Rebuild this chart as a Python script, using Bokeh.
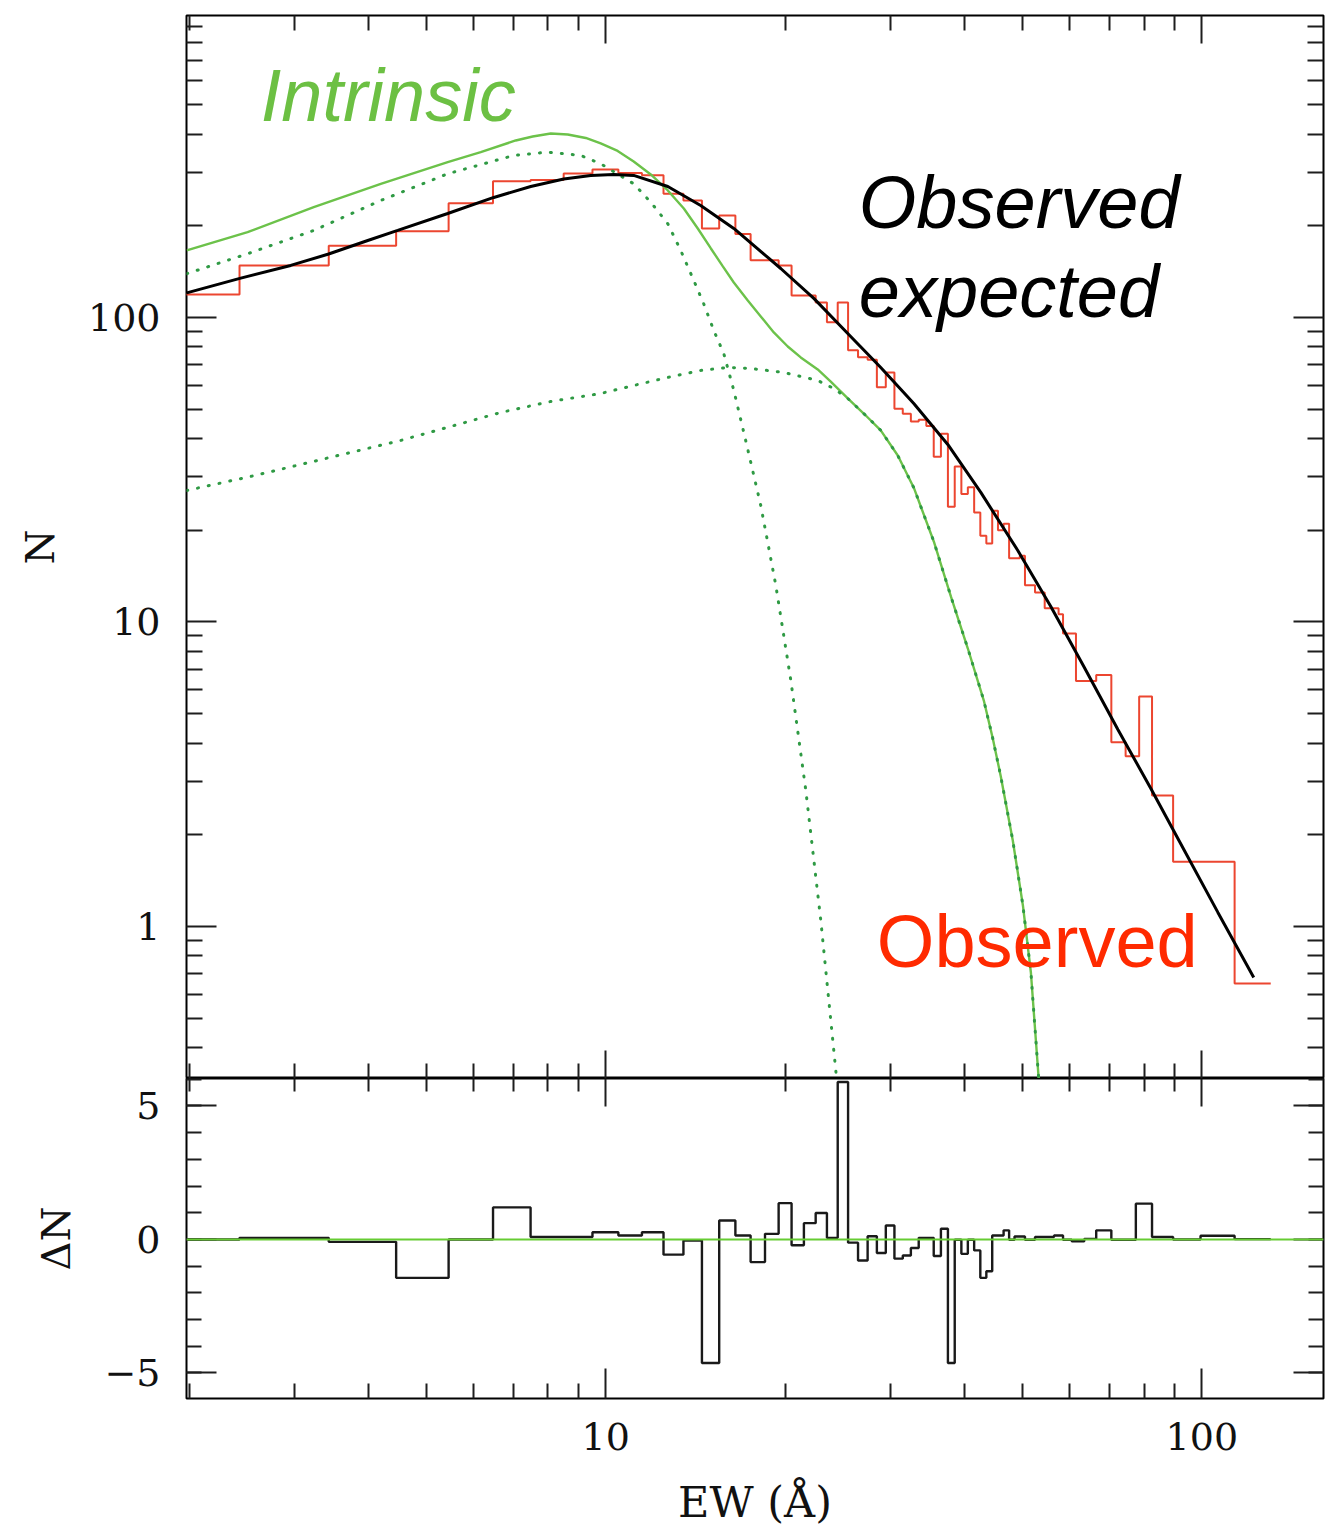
from bokeh.plotting import figure
from bokeh.models import (Range1d, LogAxis, LinearAxis, FixedTicker, Label, Span,
                          CustomJSTickFormatter)
from bokeh.layouts import column
from bokeh.embed import file_html
from bokeh.resources import INLINE

# ---------------- data ----------------
# observed histogram (bin edges in EW [A], counts N)
obs_edges = [1.5, 2.43, 3.43, 4.45, 5.45, 6.47, 7.48, 8.5, 9.5, 10.5, 11.5, 12.5, 13.5, 14.5,
             15.5, 16.5, 17.5, 19.5, 20.5, 22.5, 23.5, 24.5, 25.5, 26.5, 27.5, 28.5, 29.5,
             30.5, 31.5, 32.5, 33.5, 34.5, 35.5, 36.5, 37.5, 38.5, 39.5, 40.5, 41.5, 42.5,
             43.5, 44.5, 45.5, 46.5, 47.5, 49.5, 50.5, 52.5, 54.5, 57.5, 58.5, 61.5, 66.5,
             70.5, 74.5, 78.5, 82.5, 89.5, 113.5, 130.5]
obs_counts = [119, 148, 172, 192, 237, 280, 283, 297, 306, 298,
              293, 255, 242, 196, 216, 188, 154, 148, 118, 112,
              96.5, 112, 78, 74, 72.6, 59, 66, 50.1, 48.3, 45.5,
              46.1, 44.0, 34.9, 41.5, 23.9, 32.4, 26.3, 27.7, 22.9, 19.2,
              18.1, 23.2, 20.0, 21.0, 16.2, 16.5, 13.2, 12.5, 11.1, 10.6,
              9.17, 6.4, 6.7, 4.03, 3.62, 5.69, 2.69, 1.63, 0.65]

# residuals
res_edges = [1.5, 2.43, 3.43, 4.45, 5.45, 6.47, 7.48, 8.5, 9.5, 10.5, 11.5, 12.5, 13.5, 14.5,
             15.5, 16.5, 17.5, 18.5, 19.5, 20.5, 21.5, 22.5, 23.5, 24.5, 25.5, 26.5, 27.5,
             28.5, 29.5, 30.5, 31.5, 32.5, 33.5, 34.5, 35.5, 36.5, 37.5, 38.5, 39.5, 40.5,
             41.5, 42.5, 43.5, 44.5, 45.5, 46.5, 47.5, 48.5, 50.5, 52.5, 56.5, 58.5, 60.5,
             63.5, 66.5, 70.5, 77.5, 82.5, 89.5, 99.5, 113.5, 130.5]
res_values = [0.0, 0.06, -0.09, -1.44, 0.0, 1.2, 0.09, 0.09, 0.27, 0.15,
              0.27, -0.57, -0.04, -4.63, 0.71, 0.15, -0.85, 0.21, 1.36, -0.22,
              0.61, 0.99, 0.06, 5.9, -0.12, -0.79, 0.12, -0.51, 0.52, -0.72,
              -0.6, -0.32, 0.06, 0.06, -0.62, 0.4, -4.63, -0.01, -0.54, -0.01,
              -0.41, -1.44, -1.19, 0.15, 0.15, 0.34, -0.01,
              0.11, -0.01, 0.09, 0.15, -0.01, -0.07, 0.02, 0.34, -0.01, 1.34, 0.09,
              0.0, 0.14, 0.01]

# observed expected model (black)
exp_x = [1.982, 2.442, 2.961, 3.429, 3.988, 4.477, 5.431, 6.489, 7.484, 8.503, 9.437,
         10.31, 11.14, 12.71, 14.43, 16.40, 18.70, 19.66, 22.34, 25.47, 28.93, 32.87,
         37.48, 42.58, 49.12, 55.80, 63.39, 72.30, 82.12, 93.28, 106.4, 122.2]
exp_y = [120.4, 134.6, 148.2, 161.6, 179.0, 193.1, 219.5, 247.8, 269.2, 285.0, 292.7,
         294.9, 292.7, 269.2, 233.2, 196.0, 157.4, 144.8, 115.5, 88.6, 68.5, 52.2,
         38.28, 26.63, 17.17, 11.24, 7.144, 4.436, 2.839, 1.790, 1.112, 0.680]

# intrinsic total (green solid)
intr_x = [1.982, 2.507, 3.237, 4.194, 5.431, 6.170, 7.063, 7.541, 8.087, 8.635,
          9.257, 9.808, 10.47, 11.14, 11.90, 12.71, 13.52, 14.27, 15.01, 15.72,
          16.40, 17.31, 18.20, 19.14, 20.20, 21.24, 22.68, 23.85, 25.47, 27.20,
          28.93, 30.90, 32.87, 35.51, 37.93, 40.50, 43.08, 44.60, 46.00, 48.18,
          50.10, 51.67, 53.29]
intr_y = [166.0, 190.6, 230.2, 274.8, 323.6, 349.1, 381.3, 392.9, 402.0, 399.0,
          388.5, 372.8, 352.3, 325.3, 294.9, 261.3, 228.0, 196.0, 168.5, 147.1,
          130.3, 113.7, 100.8, 89.3, 80.3, 73.9, 67.5, 61.6, 54.2, 48.0,
          42.6, 35.2, 27.6, 18.38, 12.13, 8.18, 5.52, 4.14, 3.11, 1.916,
          1.172, 0.706, 0.31]

# narrow intrinsic component (green dotted)
nar_x = [1.982, 2.507, 3.237, 4.194, 5.431, 7.008, 7.993, 9.080, 9.808, 11.14, 11.90,
         12.71, 13.36, 14.05, 14.60, 15.18, 15.78, 16.40, 17.17, 18.20, 19.29, 20.44,
         21.66, 22.95, 24.42]
nar_y = [139.2, 161.9, 193.1, 242.2, 296.4, 340.4, 349.1, 340.4, 319.7, 274.8, 239.1,
         203.1, 166.0, 132.3, 110.9, 90.6, 76.0, 57.6, 39.45, 24.13, 13.18, 6.43,
         2.796, 1.046, 0.31]

# broad intrinsic component (green dotted)
br_x = [1.982, 2.537, 3.078, 3.734, 4.529, 5.495, 6.666, 8.087, 9.808, 11.14, 12.71,
        14.43, 16.02, 17.52, 19.89, 22.68, 24.13, 25.47, 27.20, 28.93, 30.90, 32.87,
        35.51, 37.93, 40.50, 43.08, 44.60, 46.00, 48.18, 50.10, 51.67, 53.29]
br_y = [27.03, 30.05, 32.90, 36.03, 39.45, 43.85, 48.75, 52.99, 56.28, 59.79, 63.53,
        67.0, 68.5, 68.0, 65.97, 62.10, 58.45, 54.2, 48.0, 42.6, 35.2, 27.6,
        18.38, 12.13, 8.18, 5.52, 4.14, 3.11, 1.916, 1.172, 0.706, 0.31]

# ticks
x_major = [10, 100]
x_minor = [2, 3, 4, 5, 6, 7, 8, 9, 20, 30, 40, 50, 60, 70, 80, 90]
y_major = [1, 10, 100]
y_minor = [0.4, 0.5, 0.6, 0.7, 0.8, 0.9, 2, 3, 4, 5, 6, 7, 8, 9,
           20, 30, 40, 50, 60, 70, 80, 90, 200, 300, 400, 500, 600, 700, 800, 900]
d_major = [-5, 0, 5]
d_minor = [-6, -5, -4, -3, -2, -1, 0, 1, 2, 3, 4, 5, 6]

# ---------------- styling ----------------
SERIF = "DejaVu Serif"
SANS = "Liberation Sans"
RED_LINE = "#ec4630"
RED_TEXT = "#ff2a00"
GREEN_SOLID = "#6cc24a"
GREEN_DOT = "#2f9a44"
GREEN_TEXT = "#6cc043"
TICK_COL = "#1e1e1e"

LABEL_JS = "return tick < 0 ? '\u2212' + String(-tick) : String(tick);"


def style_ticks(ax, major_len, minor_len):
    ax.axis_line_color = None
    ax.major_tick_in = major_len
    ax.major_tick_out = 0
    ax.minor_tick_in = minor_len
    ax.minor_tick_out = 0
    ax.major_tick_line_width = 2
    ax.minor_tick_line_width = 2
    ax.major_tick_line_color = TICK_COL
    ax.minor_tick_line_color = TICK_COL


def hide_labels(ax):
    ax.formatter = CustomJSTickFormatter(code="return '';")
    ax.major_label_text_font_size = "0px"
    ax.major_label_standoff = 0


def show_labels(ax, standoff):
    ax.formatter = CustomJSTickFormatter(code=LABEL_JS)
    ax.major_label_text_font = SERIF
    ax.major_label_text_font_size = "38px"
    ax.major_label_text_color = "#111111"
    ax.major_label_standoff = standoff


def axis_title(ax, text, standoff, size="40px"):
    ax.axis_label = text
    ax.axis_label_text_font = SERIF
    ax.axis_label_text_font_style = "normal"
    ax.axis_label_text_font_size = size
    ax.axis_label_text_color = "#111111"
    ax.axis_label_standoff = standoff


x_range = Range1d(1.98, 160)

# ---------------- top panel ----------------
top = figure(x_axis_type="log", y_axis_type="log", x_range=x_range,
             y_range=Range1d(0.3167, 981),
             frame_width=1137, frame_height=1063,
             min_border_left=186, min_border_right=12, min_border_top=15, min_border_bottom=0,
             x_axis_location=None, y_axis_location=None,
             output_backend="svg", toolbar_location=None)
top.grid.visible = False
top.outline_line_color = "black"
top.outline_line_width = 2
top.background_fill_color = "white"
top.border_fill_color = "white"

ax = LogAxis(ticker=FixedTicker(ticks=y_major, minor_ticks=y_minor))
style_ticks(ax, 30, 16)
show_labels(ax, 26)
axis_title(ax, "N", 22)
top.add_layout(ax, "left")

ax = LogAxis(ticker=FixedTicker(ticks=y_major, minor_ticks=y_minor))
style_ticks(ax, 30, 16)
hide_labels(ax)
top.add_layout(ax, "right")

ax = LogAxis(ticker=FixedTicker(ticks=x_major, minor_ticks=x_minor))
style_ticks(ax, 28, 15)
hide_labels(ax)
top.add_layout(ax, "above")

ax = LogAxis(ticker=FixedTicker(ticks=x_major, minor_ticks=x_minor))
style_ticks(ax, 28, 15)
hide_labels(ax)
top.add_layout(ax, "below")

top.step(x=obs_edges, y=obs_counts + [obs_counts[-1]], mode="after",
         line_color=RED_LINE, line_width=2)
top.line(intr_x, intr_y, line_color=GREEN_SOLID, line_width=2.4)
top.line(nar_x, nar_y, line_color=GREEN_DOT, line_width=3, line_dash="1 10", line_cap="round")
top.line(br_x, br_y, line_color=GREEN_DOT, line_width=3, line_dash="1 10", line_cap="round")
top.line(exp_x, exp_y, line_color="black", line_width=3)

top.add_layout(Label(x=2.637, y=535.9, text="Intrinsic", text_font=SANS,
                     text_font_style="italic", text_font_size="74px",
                     text_color=GREEN_TEXT, text_baseline="alphabetic", text_align="left"))
top.add_layout(Label(x=26.58, y=238.7, text="Observed", text_font=SANS,
                     text_font_style="italic", text_font_size="74px",
                     text_color="black", text_baseline="alphabetic", text_align="left"))
top.add_layout(Label(x=26.58, y=121.7, text="expected", text_font=SANS,
                     text_font_style="italic", text_font_size="74px",
                     text_color="black", text_baseline="alphabetic", text_align="left"))
top.add_layout(Label(x=28.50, y=0.893, text="Observed", text_font=SANS,
                     text_font_style="normal", text_font_size="74px",
                     text_color=RED_TEXT, text_baseline="alphabetic", text_align="left"))

# ---------------- bottom panel ----------------
bot = figure(x_axis_type="log", x_range=x_range, y_range=Range1d(-5.96, 6.03),
             frame_width=1137, frame_height=320,
             min_border_left=186, min_border_right=12, min_border_top=0, min_border_bottom=129,
             x_axis_location=None, y_axis_location=None,
             output_backend="svg", toolbar_location=None)
bot.grid.visible = False
bot.outline_line_color = "black"
bot.outline_line_width = 2
bot.background_fill_color = "white"
bot.border_fill_color = "white"

ax = LinearAxis(ticker=FixedTicker(ticks=d_major, minor_ticks=d_minor))
style_ticks(ax, 30, 15)
show_labels(ax, 26)
axis_title(ax, "\u0394N", 22)
bot.add_layout(ax, "left")

ax = LinearAxis(ticker=FixedTicker(ticks=d_major, minor_ticks=d_minor))
style_ticks(ax, 30, 15)
hide_labels(ax)
bot.add_layout(ax, "right")

ax = LogAxis(ticker=FixedTicker(ticks=x_major, minor_ticks=x_minor))
style_ticks(ax, 28, 13)
hide_labels(ax)
bot.add_layout(ax, "above")

ax = LogAxis(ticker=FixedTicker(ticks=x_major, minor_ticks=x_minor))
style_ticks(ax, 30, 15)
show_labels(ax, 24)
axis_title(ax, "EW (\u00c5)", 24, size="43px")
bot.add_layout(ax, "below")

bot.step(x=res_edges, y=res_values + [res_values[-1]], mode="after",
         line_color="#1a1a1a", line_width=2.4)
bot.add_layout(Span(location=0, dimension="width", line_color="#66cc33", line_width=2))

layout = column(top, bot, spacing=0)

with open("out.html", "w", encoding="utf-8") as f:
    f.write(file_html(layout, INLINE))
